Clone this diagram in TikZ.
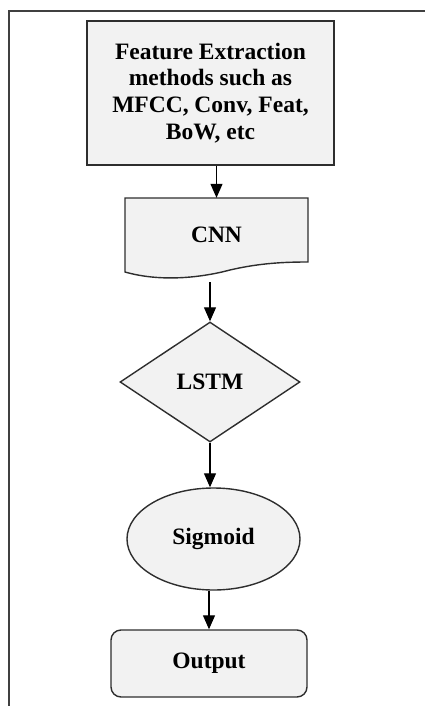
\documentclass[tikz,border=0pt]{standalone}
\usepackage{fontspec}
\setmainfont{Liberation Serif}
\usetikzlibrary{shapes.geometric,arrows.meta}
\definecolor{boxfill}{HTML}{F2F2F2}
\definecolor{edge}{HTML}{2E2E2E}
\begin{document}
\begin{tikzpicture}[x=1pt,y=-1pt,
  every node/.style={font=\fontsize{23.5}{26.7}\selectfont\bfseries, text=black},
  shapebox/.style={draw=edge, line width=1.4pt, fill=boxfill, inner sep=0pt},
  flow/.style={draw=black, line width=1.2pt, -{Triangle[width=12pt,length=14pt]}}]
  \useasboundingbox (0,0) rectangle (425,706);
  % open frame: top and left sides only
  \draw[line width=2pt, draw=black!75] (425,11) -- (8.5,11) -- (8.5,706);

  % feature extraction block
  \node[shapebox, minimum width=247pt, minimum height=144pt, align=center]
    (feat) at (210.5,93) {Feature Extraction\\methods such as\\MFCC, Conv, Feat,\\BoW, etc};

  % document-shaped CNN block
  \draw[shapebox] (125,198) -- (308,198) -- (308,262)
     .. controls (285,262) and (260,263) .. (230,270)
     .. controls (200,278) and (160,282) .. (125,272) -- cycle;
  \node[minimum width=183pt, minimum height=74pt, inner sep=0pt] (cnn) at (216.5,235) {CNN};
  \coordinate (cnnout) at (210,282);

  % LSTM decision
  \node[shapebox, diamond, aspect=1.5, minimum width=180pt, minimum height=120pt]
    (lstm) at (210,382) {LSTM};

  % sigmoid
  \node[shapebox, ellipse, minimum width=173pt, minimum height=102pt]
    (sig) at (213.5,539) {Sigmoid};

  % output
  \node[shapebox, rounded corners=10pt, minimum width=196pt, minimum height=67pt]
    (out) at (209,663.5) {Output};

  % connectors
  \draw[flow] (feat.south -| cnn.north) -- (cnn.north);
  \draw[flow] (cnnout) -- (lstm.north);
  \draw[flow] (lstm.south) -- (lstm.south |- sig.north);
  \draw[flow] (sig.south -| out.north) -- (out.north);
\end{tikzpicture}
\end{document}
